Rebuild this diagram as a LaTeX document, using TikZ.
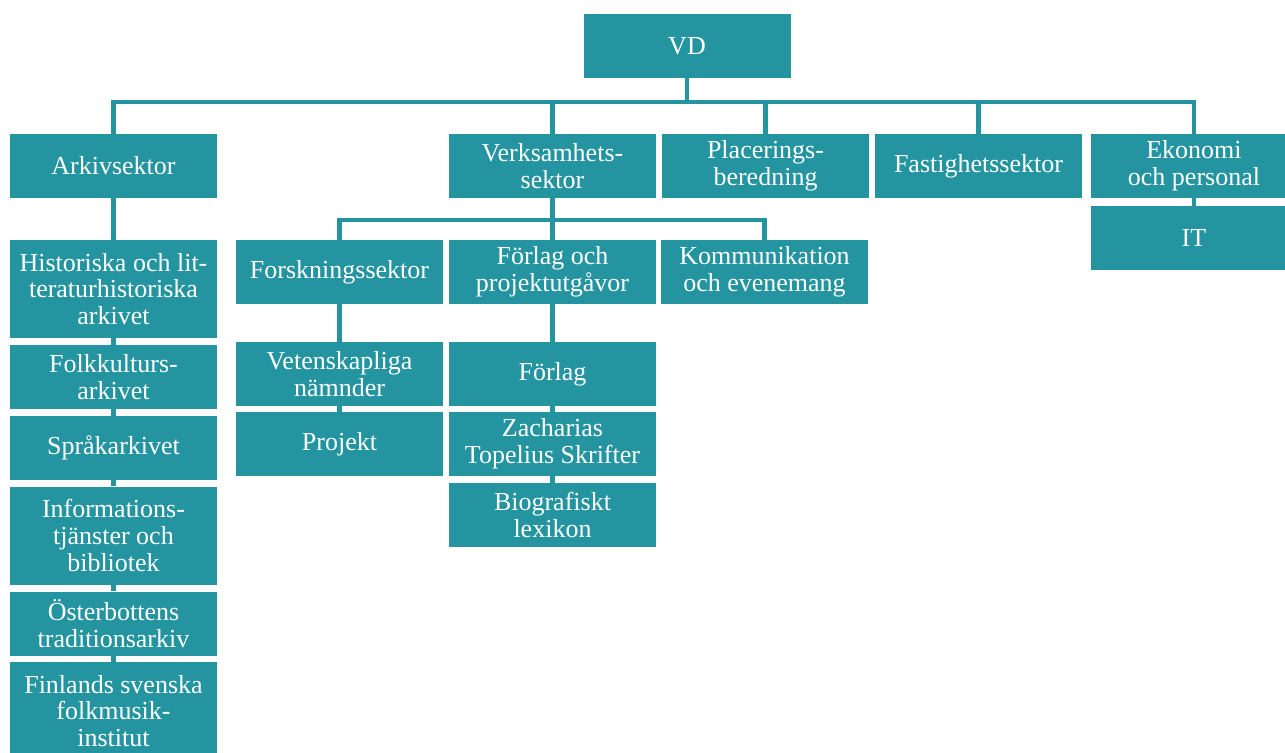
\documentclass[tikz,border=0pt]{standalone}
\usepackage{fontspec}
\setmainfont{Liberation Serif}
\usetikzlibrary{positioning}
\definecolor{orgteal}{RGB}{35,148,160}

\tikzset{
  unit/.style={fill=orgteal, text=white, minimum width=155.25pt, minimum height=48pt,
    inner sep=0pt, align=center, font=\fontsize{19.5}{20}\selectfont},
  tall/.style={minimum height=73.5pt},
  link/.style={draw=orgteal, line width=3.5pt}
}

\begin{document}
\begin{tikzpicture}[x=0.75pt,y=-0.75pt]
\useasboundingbox (0,0) rectangle (1285,753);
% top level
\node[unit] (vd) at (687,46) {VD};
\coordinate (bus) at (687,102);
\coordinate (sub) at (552,220);
% sectors
\node[unit] (arkiv) at (113.5,166) {Arkivsektor};
\node[unit] (verk) at (552.5,166) {Verksamhets-\\sektor};
\node[unit] (plac) at (765.5,166) {Placerings-\\beredning};
\node[unit] (fast) at (978.5,166) {Fastighetssektor};
\node[unit] (ekon) at (1194,166) {Ekonomi\\och personal};
\node[unit] (it) at (1194,238) {IT};
% Verksamhetssektor
\node[unit] (forsk) at (339.5,272) {Forskningssektor};
\node[unit] (forlproj) at (552.5,272) {F\"orlag och\\projektutg\aa vor};
\node[unit] (komm) at (764.5,272) {Kommunikation\\och evenemang};
\node[unit] (vet) at (339.5,374) {Vetenskapliga\\n\"amnder};
\node[unit] (proj) at (339.5,444) {Projekt};
\node[unit] (forl) at (552.5,374) {F\"orlag};
\node[unit] (zach) at (552.5,444) {Zacharias\\Topelius Skrifter};
\node[unit] (bio) at (552.5,515) {Biografiskt\\lexikon};
% Arkivsektor
\node[unit,tall] (hist) at (113.5,289) {Historiska och lit-\\teraturhistoriska\\arkivet};
\node[unit] (folk) at (113.5,377) {Folkkulturs-\\arkivet};
\node[unit] (spr) at (113.5,448) {Spr\aa karkivet};
\node[unit,tall] (info) at (113.5,535.5) {Informations-\\tj\"anster och\\bibliotek};
\node[unit] (oster) at (113.5,623.5) {\"Osterbottens\\traditionsarkiv};
\node[unit,tall] (finl) at (113.5,711) {Finlands svenska\\folkmusik-\\institut};
% connectors
\draw[link] (vd.south) -- (vd.south |- bus);
\draw[link] (arkiv.north) |- (ekon.north |- bus) -- (ekon.north);
\foreach \n in {verk,plac,fast}
  \draw[link] (\n.north) -- (\n.north |- bus);
\draw[link] (verk.south) -- (forlproj.north);
\draw[link] (forsk.north) |- (komm.north |- sub) -- (komm.north);
\foreach \a/\b in {arkiv/hist,hist/folk,folk/spr,spr/info,info/oster,oster/finl,
  ekon/it,forsk/vet,vet/proj,forlproj/forl,forl/zach,zach/bio}
  \draw[link] (\a.south) -- (\b.north);
\end{tikzpicture}
\end{document}
